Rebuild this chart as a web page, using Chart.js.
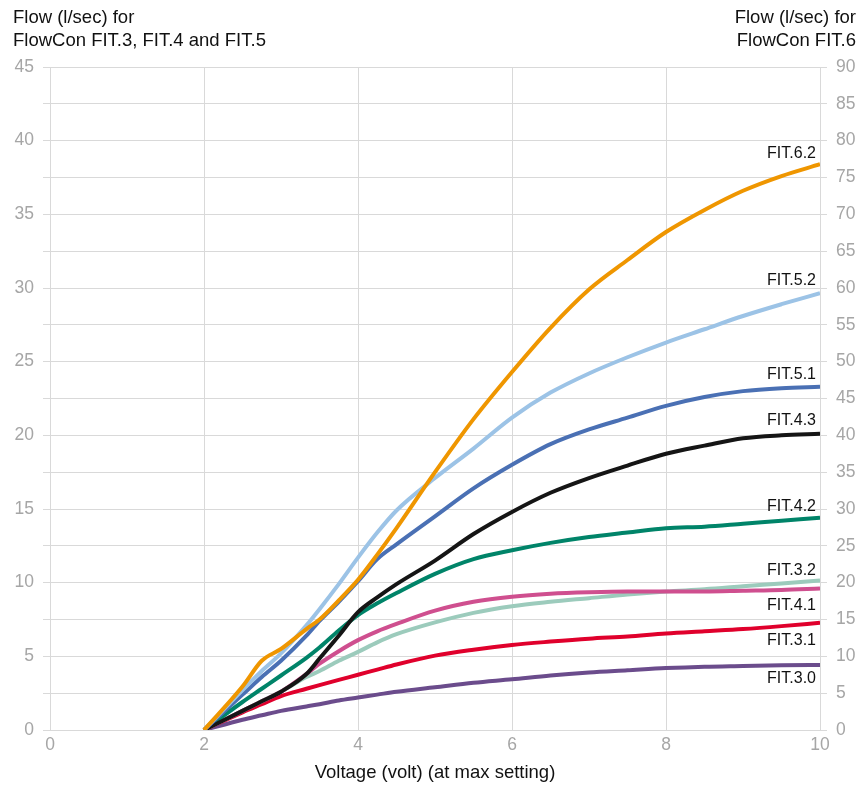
<!DOCTYPE html>
<html>
<head>
<meta charset="utf-8">
<script src="https://cdn.jsdelivr.net/npm/chart.js@4.4.1/dist/chart.umd.min.js"></script>
<style>
    body { margin: 0; background: #fff; font-family: "Liberation Sans", Arial, sans-serif; }
    #wrap { position: relative; width: 860px; height: 786px; }
    #wrap canvas { position: absolute; left: 0; top: 0; }
    .axis-title { position: absolute; font-size: 18.5px; line-height: 23px; color: #111; white-space: nowrap; }
    #title-left { left: 13px; top: 5px; }
    #title-right { right: 4px; top: 5px; text-align: right; }
</style>
</head>
<body>
<div id="wrap">
    <canvas id="chart"></canvas>
    <div class="axis-title" id="title-left">Flow (l/sec) for<br>FlowCon FIT.3, FIT.4 and FIT.5</div>
    <div class="axis-title" id="title-right">Flow (l/sec) for<br>FlowCon FIT.6</div>
</div>
<script>
// Voltage samples (volt)
const volts = [2, 2.5, 2.75, 3, 3.33, 3.5, 3.75, 4, 4.25, 4.5, 5, 5.5, 6, 6.5, 7, 7.5, 8, 8.5, 9, 9.5, 10];

// FIT.6 is read on the right axis (0-90), the rest on the left axis (0-45)
const fit62 = [0, 5.9, 9.4, 11.0, 13.7, 15.0, 17.6, 20.4, 23.8, 27.4, 35.0, 42.2, 48.6, 54.6, 59.8, 63.8, 67.6, 70.6, 73.2, 75.2, 76.8];
const fit52 = [0, 2.7, 4.0, 5.2, 7.1, 8.2, 9.9, 11.7, 13.4, 14.9, 17.1, 19.1, 21.2, 22.9, 24.2, 25.3, 26.3, 27.2, 28.1, 28.9, 29.65];
const fit51 = [0, 2.4, 3.6, 4.7, 6.4, 7.4, 8.7, 10.1, 11.6, 12.6, 14.5, 16.4, 18.0, 19.4, 20.4, 21.2, 22.0, 22.6, 23.0, 23.2, 23.3];
const fit43 = [0, 1.3, 1.95, 2.6, 3.8, 4.85, 6.4, 8.0, 9.0, 9.9, 11.5, 13.3, 14.8, 16.1, 17.1, 17.95, 18.75, 19.3, 19.8, 20.0, 20.1];
const fit42 = [0, 1.9, 2.8, 3.7, 4.9, 5.6, 6.75, 7.8, 8.6, 9.3, 10.6, 11.6, 12.2, 12.7, 13.1, 13.4, 13.7, 13.8, 14.0, 14.2, 14.4];
const fit41 = [0, 1.3, 1.95, 2.6, 3.8, 4.5, 5.35, 6.1, 6.7, 7.2, 8.1, 8.7, 9.05, 9.25, 9.35, 9.4, 9.4, 9.4, 9.45, 9.5, 9.6];
const fit32 = [0, 1.3, 1.95, 2.6, 3.6, 4.0, 4.7, 5.3, 5.95, 6.5, 7.3, 7.95, 8.4, 8.7, 8.95, 9.2, 9.4, 9.55, 9.75, 9.95, 10.15];
const fit31 = [0, 1.2, 1.75, 2.3, 2.8, 3.05, 3.4, 3.75, 4.1, 4.45, 5.05, 5.45, 5.77, 6.0, 6.2, 6.35, 6.55, 6.7, 6.85, 7.05, 7.28];
const fit30 = [0, 0.7, 1.0, 1.3, 1.6, 1.75, 2.0, 2.2, 2.4, 2.6, 2.9, 3.2, 3.44, 3.7, 3.9, 4.05, 4.2, 4.3, 4.35, 4.4, 4.41];

const xTicks = [0, 2, 4, 6, 8, 10];

function points(values) {
    return volts.map((v, i) => ({ x: v, y: values[i] }));
}

function series(label, values, color, axis, dy) {
    return {
        label: label,
        data: points(values),
        borderColor: color,
        backgroundColor: color,
        borderWidth: 4,
        pointRadius: 0,
        cubicInterpolationMode: 'monotone',
        yAxisID: axis,
        labelDy: dy
    };
}

// draws the FIT.x.x name next to the end of each curve
const endLabels = {
    id: 'endLabels',
    afterDatasetsDraw(chart) {
        const ctx = chart.ctx;
        ctx.save();
        ctx.font = '16px "Liberation Sans", Arial, sans-serif';
        ctx.fillStyle = '#111';
        ctx.textAlign = 'right';
        ctx.textBaseline = 'middle';
        chart.data.datasets.forEach((ds, i) => {
            const meta = chart.getDatasetMeta(i);
            const last = meta.data[meta.data.length - 1];
            ctx.fillText(ds.label, last.x - 4, last.y + ds.labelDy);
        });
        ctx.restore();
    }
};

const gridColor = '#d9d9d9';
const tickFont = { family: '"Liberation Sans", Arial, sans-serif', size: 17.5 };
const titleFont = { family: '"Liberation Sans", Arial, sans-serif', size: 18.5 };

new Chart(document.getElementById('chart'), {
    type: 'line',
    data: {
        datasets: [
            series('FIT.6.2', fit62, '#ef9600', 'y2', -11),
            series('FIT.5.2', fit52, '#9cc3e6', 'y', -13),
            series('FIT.5.1', fit51, '#4a70b4', 'y', -12),
            series('FIT.4.3', fit43, '#151515', 'y', -13),
            series('FIT.4.2', fit42, '#008469', 'y', -11),
            series('FIT.4.1', fit41, '#cf4f8f', 'y', 17),
            series('FIT.3.2', fit32, '#9ccbbc', 'y', -10),
            series('FIT.3.1', fit31, '#e0002c', 'y', 18),
            series('FIT.3.0', fit30, '#6b4c8c', 'y', 14)
        ]
    },
    options: {
        responsive: true,
        maintainAspectRatio: false,
        animation: false,
        layout: { padding: { top: 67, right: 0, left: 0, bottom: 0 } },
        plugins: {
            legend: { display: false },
            tooltip: { enabled: false }
        },
        scales: {
            x: {
                type: 'linear',
                min: 0,
                max: 10,
                afterBuildTicks: scale => { scale.ticks = xTicks.map(v => ({ value: v })); },
                grid: { color: gridColor, drawTicks: false },
                border: { display: false },
                ticks: { color: '#a6a6a6', font: tickFont, padding: 5 },
                title: {
                    display: true,
                    text: 'Voltage (volt) (at max setting)',
                    color: '#111',
                    font: titleFont,
                    padding: { top: 5, bottom: 2 }
                },
                afterFit: scale => { scale.height = 56; }
            },
            y: {
                position: 'left',
                min: 0,
                max: 45,
                ticks: {
                    stepSize: 2.5,
                    color: '#a6a6a6',
                    font: tickFont,
                    padding: 9,
                    callback: v => (v % 5 === 0 ? v : '')
                },
                grid: { color: gridColor, drawOnChartArea: false, tickLength: 7 },
                border: { display: false },
                afterFit: scale => { scale.width = 50; }
            },
            y2: {
                position: 'right',
                min: 0,
                max: 90,
                ticks: { stepSize: 5, color: '#a6a6a6', font: tickFont, padding: 9 },
                grid: { color: gridColor, tickLength: 7 },
                border: { display: false },
                afterFit: scale => { scale.width = 40; }
            }
        }
    },
    plugins: [endLabels]
});
</script>
</body>
</html>
